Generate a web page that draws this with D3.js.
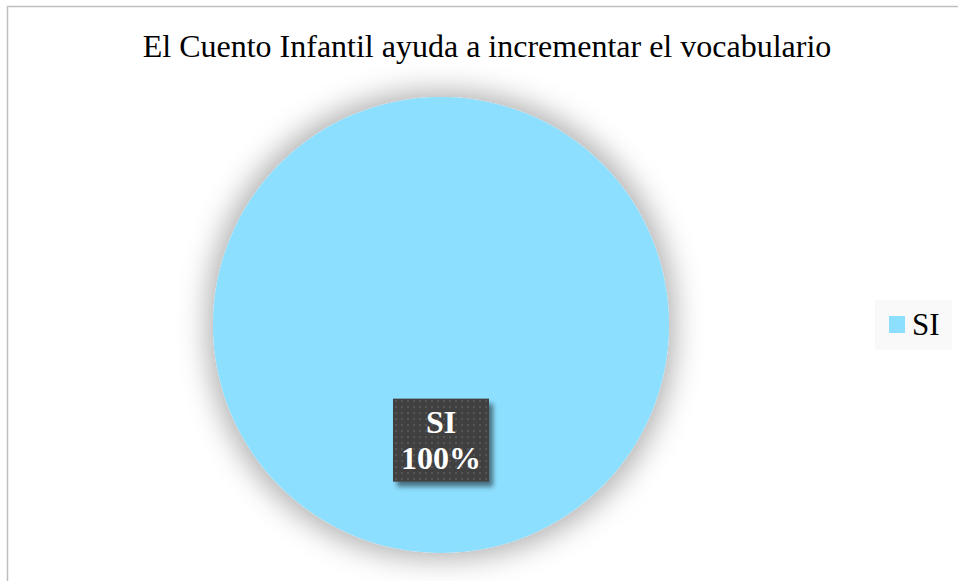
<!DOCTYPE html>
<html>
<head>
<meta charset="utf-8">
<script src="https://cdn.jsdelivr.net/npm/d3@7"></script>
<style>
  body { margin: 0; background: #fff; }
  svg { display: block; font-family: "Liberation Serif", "Times New Roman", serif; }
</style>
</head>
<body>
<svg id="chart" width="958" height="581"></svg>
<script>
'use strict';

var title = 'El Cuento Infantil ayuda a incrementar el vocabulario';
var categories = ['SI'];
var values = [100];
var colors = ['#8ddfff'];

var svg = d3.select('#chart');
var width = 958, height = 581;
var cx = 441, cy = 325, radius = 228;

var defs = svg.append('defs');

var blur = defs.append('filter')
  .attr('id', 'pieShadow')
  .attr('x', '-30%').attr('y', '-30%')
  .attr('width', '160%').attr('height', '160%');
blur.append('feMorphology').attr('in', 'SourceAlpha').attr('operator', 'dilate').attr('radius', 6).attr('result', 'd');
blur.append('feGaussianBlur').attr('in', 'd').attr('stdDeviation', 14).attr('result', 'b');
blur.append('feFlood').attr('flood-color', '#000').attr('flood-opacity', 0.3);
blur.append('feComposite').attr('in2', 'b').attr('operator', 'in').attr('result', 's');
var m = blur.append('feMerge');
m.append('feMergeNode').attr('in', 's');
m.append('feMergeNode').attr('in', 'SourceGraphic');

var boxShadow = defs.append('filter')
  .attr('id', 'boxShadow')
  .attr('x', '-20%').attr('y', '-20%')
  .attr('width', '150%').attr('height', '150%');
boxShadow.append('feGaussianBlur').attr('in', 'SourceAlpha').attr('stdDeviation', 2.5).attr('result', 'b');
boxShadow.append('feOffset').attr('dx', 4).attr('dy', 5).attr('result', 'o');
boxShadow.append('feFlood').attr('flood-color', '#000').attr('flood-opacity', 0.5);
boxShadow.append('feComposite').attr('in2', 'o').attr('operator', 'in').attr('result', 's');
var m2 = boxShadow.append('feMerge');
m2.append('feMergeNode').attr('in', 's');
m2.append('feMergeNode').attr('in', 'SourceGraphic');

var dots = defs.append('pattern')
  .attr('id', 'dots')
  .attr('width', 6).attr('height', 6)
  .attr('patternUnits', 'userSpaceOnUse');
dots.append('rect').attr('width', 6).attr('height', 6).attr('fill', '#3f3f3f');
dots.append('rect').attr('x', 2).attr('y', 2).attr('width', 2).attr('height', 2).attr('fill', '#575757');

// frame
svg.append('path')
  .attr('d', 'M7.5,' + height + 'V6.5H' + width)
  .attr('fill', 'none')
  .attr('stroke', '#bfbfbf')
  .attr('stroke-width', 1.5);

svg.append('text')
  .attr('x', 487)
  .attr('y', 57)
  .attr('text-anchor', 'middle')
  .attr('font-size', 32)
  .attr('fill', '#000')
  .text(title);

var pie = d3.pie().sort(null).value(function(d) { return d; });
var arc = d3.arc().innerRadius(0).outerRadius(radius);
var total = d3.sum(values);

var g = svg.append('g').attr('transform', 'translate(' + cx + ',' + cy + ')');

g.selectAll('path.slice')
  .data(pie(values))
  .enter().append('path')
  .attr('class', 'slice')
  .attr('d', arc)
  .attr('fill', function(d, i) { return colors[i]; })
  .attr('filter', 'url(#pieShadow)');

// data labels
var labelArc = d3.arc().innerRadius(radius * 0.5).outerRadius(radius * 0.5);
var labels = g.selectAll('g.label')
  .data(pie(values))
  .enter().append('g')
  .attr('class', 'label')
  .attr('transform', function(d) {
    var p = d.endAngle - d.startAngle >= 2 * Math.PI - 1e-6 ? [0, radius * 0.505] : labelArc.centroid(d);
    return 'translate(' + p[0] + ',' + p[1] + ')';
  });

labels.append('rect')
  .attr('x', -48).attr('y', -41.5)
  .attr('width', 96).attr('height', 83)
  .attr('fill', 'url(#dots)')
  .attr('filter', 'url(#boxShadow)');

labels.append('text')
  .attr('text-anchor', 'middle')
  .attr('y', -7.5)
  .attr('font-size', 32)
  .attr('font-weight', 'bold')
  .attr('fill', '#fff')
  .text(function(d, i) { return categories[i]; });

labels.append('text')
  .attr('text-anchor', 'middle')
  .attr('y', 28.5)
  .attr('font-size', 32)
  .attr('font-weight', 'bold')
  .attr('fill', '#fff')
  .text(function(d) { return Math.round(d.value / total * 100) + '%'; });

// legend
var legend = svg.append('g').attr('transform', 'translate(875,300)');
legend.append('rect')
  .attr('width', 77).attr('height', 50)
  .attr('fill', '#f9f9f9');
var items = legend.selectAll('g.item')
  .data(categories)
  .enter().append('g')
  .attr('class', 'item');
items.append('rect')
  .attr('x', 14).attr('y', 16)
  .attr('width', 16).attr('height', 17)
  .attr('fill', function(d, i) { return colors[i]; });
items.append('text')
  .attr('x', 37).attr('y', 35)
  .attr('font-size', 31)
  .attr('fill', '#000')
  .text(function(d) { return d; });
</script>
</body>
</html>
